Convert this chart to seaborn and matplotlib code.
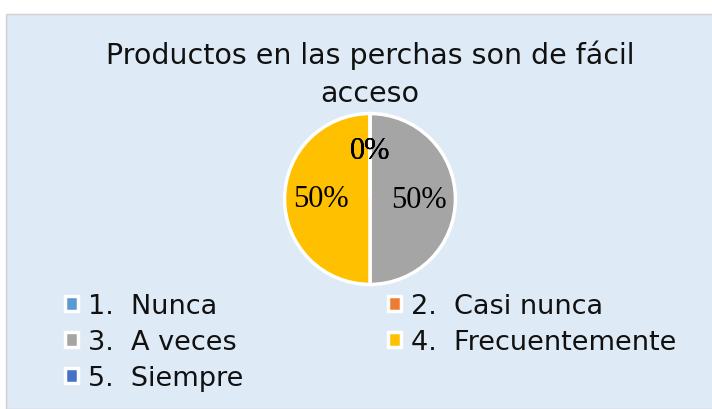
import matplotlib
matplotlib.use('Agg')
import matplotlib.pyplot as plt
import seaborn as sns
from matplotlib.patches import Rectangle

categorias = ['1.  Nunca', '2.  Casi nunca', '3.  A veces', '4.  Frecuentemente', '5.  Siempre']
porcentajes = [0, 0, 50, 50, 0]
colores = ['#5B9BD5', '#ED7D31', '#A5A5A5', '#FFC000', '#4472C4']
titulo = 'Productos en las perchas son de fácil\nacceso'

sns.set_theme(style='white')
plt.rcParams['font.family'] = ['DejaVu Sans']

fig = plt.figure(figsize=(7.12, 4.10), dpi=100, facecolor='white')
# fondo del area del grafico
fig.patches.append(Rectangle((6 / 712, 0), 1, 1 - 15 / 410, transform=fig.transFigure,
                             facecolor='#DEEAF6', edgecolor='#D0D0D0', linewidth=1, zorder=-1))

ax = fig.add_axes([(370 - 88) / 712, (410 - 288) / 410, 176 / 712, 176 / 410])
ax.set_facecolor('none')

wedges, textos, autotextos = ax.pie(
    porcentajes, colors=colores, startangle=90, counterclock=False,
    autopct='%1.0f%%', pctdistance=0.57,
    wedgeprops=dict(edgecolor='white', linewidth=2.5),
    textprops=dict(family='Liberation Serif', fontsize=22, color='black'))
ax.set_aspect('equal')
ax.set_xlim(-1.03, 1.03)
ax.set_ylim(-1.03, 1.03)

fig.text(370 / 712, 1 - 74.5 / 410, titulo, ha='center', va='center', fontsize=20.5,
         linespacing=1.45, color='#111111')

# leyenda por filas: 1 2 / 3 4 / 5
orden = [0, 2, 4, 1, 3]
fig.legend([wedges[i] for i in orden], [categorias[i] for i in orden],
           loc='upper left', bbox_to_anchor=(54 / 712, 1 - 283 / 410),
           ncol=2, frameon=False, fontsize=19.5, handlelength=0.48, handleheight=0.48,
           handletextpad=0.37, columnspacing=5.35, labelspacing=0.37, borderaxespad=0,
           labelcolor='#111111')

fig.savefig('out.png', dpi=100, facecolor='white')
